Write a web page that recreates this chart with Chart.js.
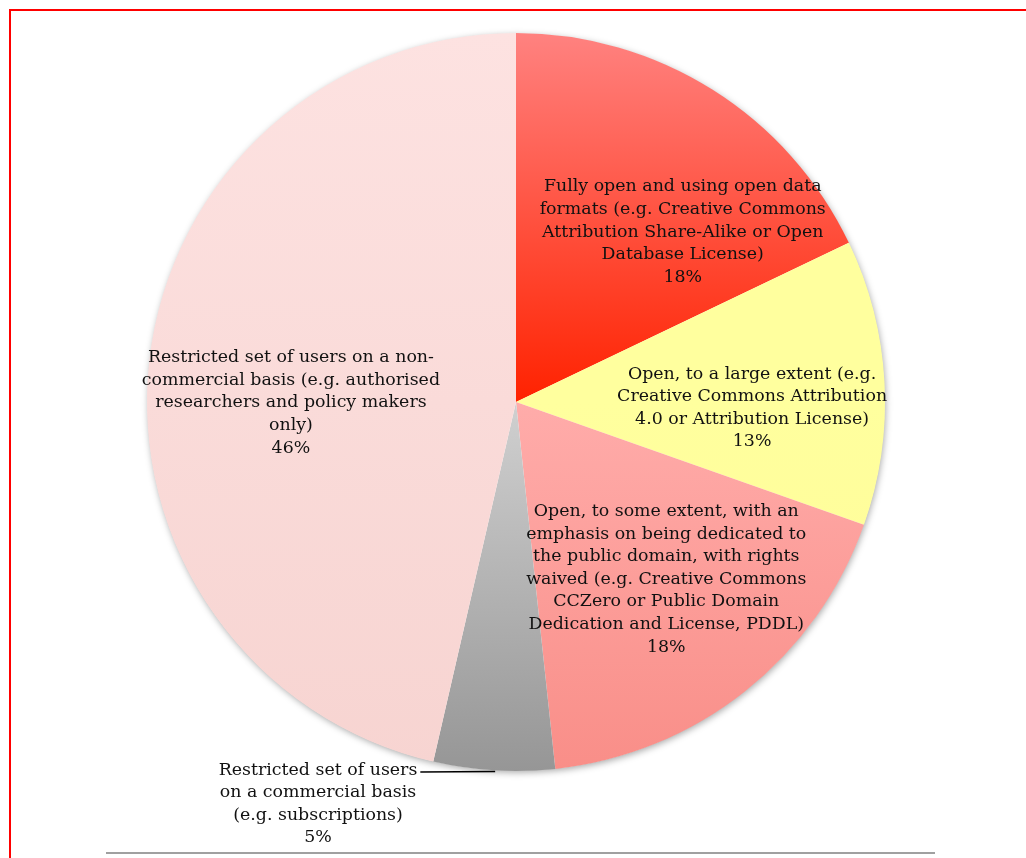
<!DOCTYPE html>
<html>
<head>
<meta charset="utf-8">
<script src="https://cdn.jsdelivr.net/npm/chart.js@4.4.1/dist/chart.umd.min.js"></script>
<style>
  html, body { margin: 0; padding: 0; background: #ffffff; overflow: hidden; }
  #wrap { position: absolute; left: 0; top: 0; width: 1026px; height: 858px; }
  #frame { position: absolute; left: 9px; top: 9px; width: 1030px; height: 860px;
           border-top: 2px solid #ff0000; border-left: 2px solid #ff0000; box-sizing: border-box; }
  #rule { position: absolute; left: 106px; top: 852px; width: 829px; height: 2px; background: #a0a0a0; }
  canvas { position: absolute; left: 0; top: 0; }
</style>
</head>
<body>
<div id="wrap">
  <div id="frame"></div>
  <div id="rule"></div>
  <canvas id="c" width="1026" height="858"></canvas>
</div>
<script>
// ---- data ----
const categories = [
  ["Fully open and using open data", "formats (e.g. Creative Commons", "Attribution Share-Alike or Open", "Database License)"],
  ["Open, to a large extent (e.g.", "Creative Commons Attribution", "4.0 or Attribution License)"],
  ["Open, to some extent, with an", "emphasis on being dedicated to", "the public domain, with rights", "waived (e.g. Creative Commons", "CCZero or Public Domain", "Dedication and License, PDDL)"],
  ["Restricted set of users", "on a commercial basis", "(e.g. subscriptions)"],
  ["Restricted set of users on a non-", "commercial basis (e.g. authorised", "researchers and policy makers", "only)"]
];
const values = [17.9, 12.5, 17.9, 5.3, 46.4];
const percentLabels = ["18%", "13%", "18%", "5%", "46%"];

// ---- styling / layout (not data) ----
const gradStops = [
  ["rgb(255,130,128)", "rgb(255,34,0)", "topToCenter"],
  ["rgb(255,255,158)", "rgb(255,250,150)", "centerToBottom"],
  ["rgb(255,172,170)", "rgb(249,142,136)", "centerToBottom"],
  ["rgb(208,208,208)", "rgb(150,150,150)", "centerToBottom"],
  ["rgb(253,226,225)", "rgb(247,212,209)", "topToBottom"]
];
// label anchor: fraction along arc angle, fraction of radius
const labelPos = [
  {t: 0.69, r: 0.645},
  {t: 0.60, r: 0.64},
  {t: 0.47, r: 0.63},
  {outside: true, tx: -198, ty: 402, lineT: 0.49},
  {t: 0.46, r: 0.61}
];
const FONT = '17.4px "DejaVu Serif", Georgia, serif';
const LINE_H = 22.6;

function bg(ctx) {
  const chart = ctx.chart;
  const i = ctx.dataIndex;
  const s = gradStops[i];
  const ca = chart.chartArea;
  if (!ca) return s[0];
  const cy = (ca.top + ca.bottom) / 2;
  const r = Math.min(ca.right - ca.left, ca.bottom - ca.top) / 2;
  let y0, y1;
  if (s[2] === 'topToCenter') { y0 = cy - r; y1 = cy; }
  else if (s[2] === 'centerToBottom') { y0 = cy; y1 = cy + r; }
  else { y0 = cy - r; y1 = cy + r; }
  const g = chart.ctx.createLinearGradient(0, y0, 0, y1);
  g.addColorStop(0, s[0]);
  g.addColorStop(1, s[1]);
  return g;
}

const shadowPlugin = {
  id: 'shadow',
  beforeDatasetsDraw(chart) {
    const arc = chart.getDatasetMeta(0).data[0];
    if (!arc) return;
    const c = chart.ctx;
    c.save();
    c.shadowColor = 'rgba(0,0,0,0.35)';
    c.shadowBlur = 7;
    c.shadowOffsetX = 1;
    c.shadowOffsetY = 2;
    c.beginPath();
    c.arc(arc.x, arc.y, arc.outerRadius - 0.5, 0, Math.PI * 2);
    c.fillStyle = '#ffffff';
    c.fill();
    c.restore();
  }
};

const labelPlugin = {
  id: 'labels',
  afterDatasetsDraw(chart) {
    const c = chart.ctx;
    const arcs = chart.getDatasetMeta(0).data;
    c.save();
    c.font = FONT;
    c.fillStyle = '#111111';
    c.textAlign = 'center';
    c.textBaseline = 'middle';
    arcs.forEach((arc, i) => {
      const p = labelPos[i];
      const lines = categories[i].concat([percentLabels[i]]);
      let bx, by;
      if (p.outside) {
        bx = arc.x + p.tx; by = arc.y + p.ty;
      } else {
        const a = arc.startAngle + p.t * (arc.endAngle - arc.startAngle);
        bx = arc.x + Math.cos(a) * arc.outerRadius * p.r;
        by = arc.y + Math.sin(a) * arc.outerRadius * p.r;
      }
      const top = by - (lines.length - 1) * LINE_H / 2;
      lines.forEach((ln, k) => c.fillText(ln, bx, top + k * LINE_H));
      if (p.outside) {
        const a = arc.startAngle + p.lineT * (arc.endAngle - arc.startAngle);
        const ex = arc.x + Math.cos(a) * (arc.outerRadius + 1);
        const ey = arc.y + Math.sin(a) * (arc.outerRadius + 1);
        const w = c.measureText(lines[0]).width;
        const sx = bx + w / 2 + 3, sy = top + 2;
        c.beginPath();
        c.moveTo(sx, sy);
        c.lineTo(ex, ey);
        c.lineWidth = 1.5;
        c.strokeStyle = '#000000';
        c.stroke();
      }
    });
    c.restore();
  }
};

new Chart(document.getElementById('c'), {
  type: 'pie',
  data: {
    labels: categories.map(l => l.join(' ')),
    datasets: [{
      data: values,
      backgroundColor: bg,
      borderWidth: 0,
      hoverOffset: 0
    }]
  },
  options: {
    responsive: false,
    animation: false,
    devicePixelRatio: 1,
    layout: { padding: { top: 33, bottom: 87, left: 100, right: 94 } },
    plugins: {
      legend: { display: false },
      tooltip: { enabled: false },
      title: { display: false }
    },
    events: []
  },
  plugins: [shadowPlugin, labelPlugin]
});
</script>
</body>
</html>
